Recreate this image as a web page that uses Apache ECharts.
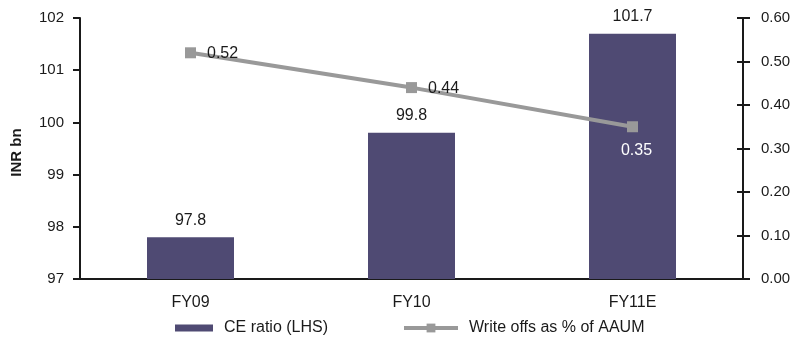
<!DOCTYPE html>
<html>
<head>
<meta charset="utf-8">
<script src="https://cdn.jsdelivr.net/npm/echarts@6/dist/echarts.min.js"></script>
<style>
  html, body { margin: 0; padding: 0; background: #fff; }
  #chart { width: 794px; height: 337px; }
</style>
</head>
<body>
<div id="chart"></div>
<script>
// Fiscal years on the category axis
const categories = ['FY09', 'FY10', 'FY11E'];
// CE ratio, INR bn (left axis)
const ceRatio = [97.8, 99.8, 101.7];
// Write offs as % of AAUM (right axis)
const writeOffs = [0.52, 0.44, 0.35];
// Axis tick labels
const leftTicks = [97, 98, 99, 100, 101, 102];
const rightTicks = [0.0, 0.1, 0.2, 0.3, 0.4, 0.5, 0.6];

const FONT = 'Liberation Sans, Arial, sans-serif';
const TEXT = '#1a1a1a';
const FS_TICK = 15;
const FS = 16;

const chart = echarts.init(document.getElementById('chart'), null, { renderer: 'canvas' });

const legendText = { fontFamily: FONT, fontSize: FS, color: TEXT, padding: [0, 0, 0, 6] };

chart.setOption({
  animation: false,
  textStyle: { fontFamily: FONT },
  grid: { left: 80, right: 51, top: 18, bottom: 58, containLabel: false },
  legend: [
    {
      top: 320,
      left: 175,
      padding: 0,
      itemWidth: 38,
      itemHeight: 7,
      textStyle: legendText,
      data: [{ name: 'CE ratio (LHS)', icon: 'rect' }]
    },
    {
      top: 320,
      left: 402,
      padding: 0,
      itemWidth: 54,
      itemHeight: 11,
      lineStyle: { width: 4 },
      textStyle: legendText,
      data: [{ name: 'Write offs as % of AAUM' }]
    }
  ],
  xAxis: {
    type: 'category',
    data: categories,
    axisLine: { lineStyle: { color: '#1a1a1a', width: 2 } },
    axisTick: { show: false },
    axisLabel: { color: TEXT, fontSize: FS, fontFamily: FONT, margin: 16 }
  },
  yAxis: [
    {
      type: 'value',
      min: leftTicks[0],
      max: leftTicks[leftTicks.length - 1],
      interval: 1,
      name: 'INR bn',
      nameLocation: 'middle',
      nameGap: 56,
      nameRotate: 90,
      nameTextStyle: {
        fontFamily: FONT, fontSize: FS_TICK, fontWeight: 'bold', color: TEXT,
        padding: [0, 8, 0, 0]
      },
      axisLine: { show: true, lineStyle: { color: '#1a1a1a', width: 2 } },
      axisTick: { show: true, length: 7, lineStyle: { color: '#1a1a1a', width: 2 } },
      axisLabel: { color: TEXT, fontSize: FS_TICK, fontFamily: FONT, margin: 16 },
      splitLine: { show: false }
    },
    {
      type: 'value',
      position: 'right',
      min: rightTicks[0],
      max: rightTicks[rightTicks.length - 1],
      interval: 0.1,
      axisLine: { show: true, lineStyle: { color: '#1a1a1a', width: 2 } },
      axisTick: { show: true, length: 7, lineStyle: { color: '#1a1a1a', width: 2 } },
      axisLabel: {
        color: TEXT, fontSize: FS_TICK, fontFamily: FONT, margin: 18,
        formatter: v => v.toFixed(2)
      },
      splitLine: { show: false }
    },
    {
      // inner half of the crossing ticks on the right axis
      type: 'value',
      position: 'right',
      min: rightTicks[0],
      max: rightTicks[rightTicks.length - 1],
      interval: 0.1,
      axisLine: { show: false },
      axisTick: { show: true, inside: true, length: 6, lineStyle: { color: '#1a1a1a', width: 2 } },
      axisLabel: { show: false },
      splitLine: { show: false }
    }
  ],
  series: [
    {
      name: 'CE ratio (LHS)',
      type: 'bar',
      yAxisIndex: 0,
      data: ceRatio,
      barWidth: 87,
      itemStyle: { color: '#4f4a73' },
      label: {
        show: true,
        position: 'top',
        distance: 9,
        color: TEXT,
        fontSize: FS,
        fontFamily: FONT,
        formatter: p => p.value.toFixed(1)
      }
    },
    {
      name: 'Write offs as % of AAUM',
      type: 'line',
      yAxisIndex: 1,
      data: writeOffs.map((v, i) => ({
        value: v,
        label: i === 2
          ? { position: 'bottom', distance: 10, offset: [4, 0], color: '#ffffff' }
          : { position: 'right', distance: 11, offset: [0, 1] }
      })),
      symbol: 'rect',
      symbolSize: 11,
      lineStyle: { color: '#999999', width: 4 },
      itemStyle: { color: '#999999' },
      z: 3,
      label: {
        show: true,
        color: TEXT,
        fontSize: FS,
        fontFamily: FONT,
        formatter: p => p.value.toFixed(2)
      }
    }
  ]
});
</script>
</body>
</html>
